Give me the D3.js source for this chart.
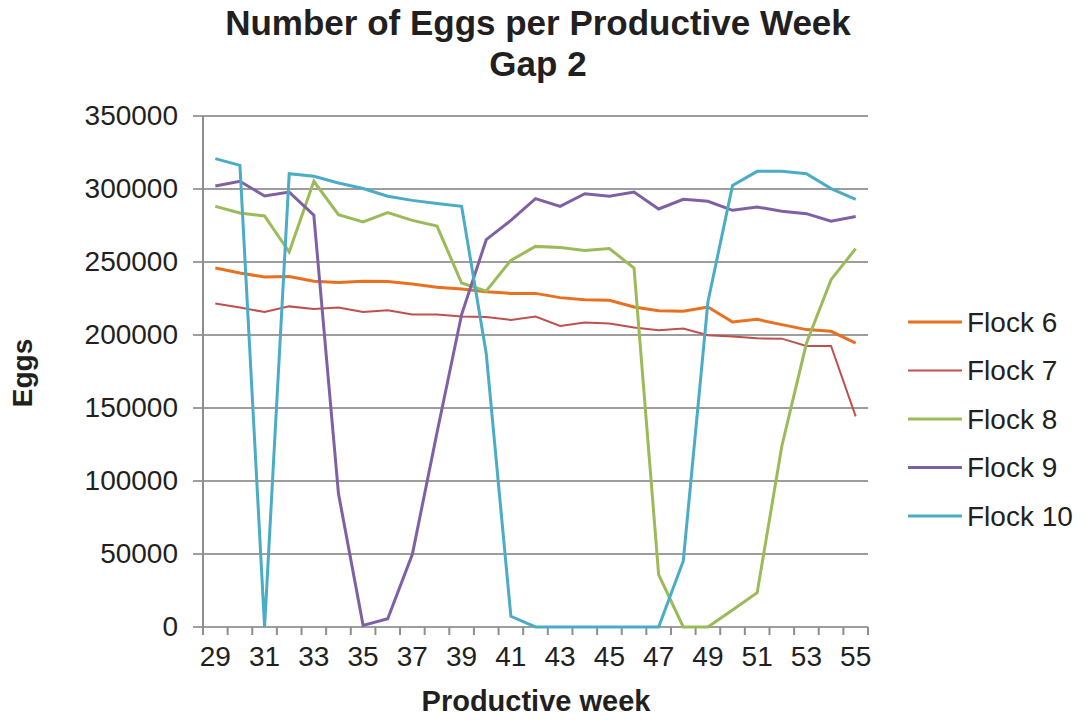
<!DOCTYPE html>
<meta charset="utf-8">
<style>
  body { margin: 0; background: #fff; }
  text { font-family: "Liberation Sans", Arial, sans-serif; fill: #231f20; }
</style>
<script src="https://d3js.org/d3.v7.min.js"></script>
<div id="my_dataviz"></div>
<script>

// productive weeks on the x axis
var weeks = [29,30,31,32,33,34,35,36,37,38,39,40,41,42,43,44,45,46,47,48,49,50,51,52,53,54,55];
var weekLabels = [29,31,33,35,37,39,41,43,45,47,49,51,53,55];
var yTicks = [0,50000,100000,150000,200000,250000,300000,350000];

// eggs per week
var flock6 = [245900,242500,239700,240000,236800,235900,236800,236600,234900,232700,231500,229700,228500,228500,225600,224200,223800,219200,216600,216200,219200,208900,210700,207100,203700,202500,194500];
var flock7 = [221500,218800,215700,219600,217800,218800,215700,216900,214000,214000,212600,212300,210300,212600,206200,208500,207800,205100,203200,204400,199800,198900,197700,197500,192500,192500,144300];
var flock8 = [288100,283600,281500,256800,305300,282400,277400,283800,278500,274600,235600,230100,251100,260700,260000,257800,259200,245900,35900,0,0,11700,23500,123800,194300,237900,259200];
var flock9 = [302000,305300,295200,297900,282000,91400,1100,5700,49800,133000,214000,265300,278500,293400,288100,296800,295000,297900,286300,292900,291600,285400,287700,284700,283100,277900,281100];
var flock10 = [320800,316200,0,310500,308700,304100,300300,295000,292200,290000,288100,187300,7300,0,0,0,0,0,0,45200,222600,302500,312100,312100,310500,300300,292900];

var seriesNames = ["Flock 6","Flock 7","Flock 8","Flock 9","Flock 10"];
var seriesValues = [flock6, flock7, flock8, flock9, flock10];
var colors = ["#e8701f","#c0504d","#9bbb59","#7f60a2","#4bacc6"];
var widths = [3, 2, 3, 3, 3];

var W = 1084, H = 720;
var margin = {top: 116, left: 203, right: 216, bottom: 93};

var svg = d3.select("#my_dataviz")
  .append("svg")
    .attr("width", W)
    .attr("height", H);

var x = d3.scaleBand()
    .domain(weeks)
    .range([margin.left, W - margin.right])
    .padding(0);

var y = d3.scaleLinear()
    .domain([0, 350000])
    .range([H - margin.bottom, margin.top]);

var cx = function(w) { return x(w) + x.bandwidth() / 2; };

// gridlines (with the little outside tick on the left)
svg.append("g")
  .selectAll("line")
  .data(yTicks)
  .enter()
  .append("line")
    .attr("x1", margin.left - 10)
    .attr("x2", W - margin.right)
    .attr("y1", function(d) { return y(d); })
    .attr("y2", function(d) { return y(d); })
    .style("stroke", "#9d9d9d")
    .style("stroke-width", 2);

// y axis line
svg.append("line")
    .attr("x1", margin.left).attr("x2", margin.left)
    .attr("y1", y(350000)).attr("y2", y(0) + 8)
    .style("stroke", "#8e8e8e")
    .style("stroke-width", 2);

// x tick marks at band edges
var edges = weeks.map(function(w) { return x(w); }).concat([W - margin.right]);
svg.append("g")
  .selectAll("line")
  .data(edges)
  .enter()
  .append("line")
    .attr("x1", function(d) { return d; })
    .attr("x2", function(d) { return d; })
    .attr("y1", y(0))
    .attr("y2", y(0) + 8)
    .style("stroke", "#8e8e8e")
    .style("stroke-width", 2);

// y tick labels
var yAxis = svg.append("g")
    .attr("transform", "translate(" + (margin.left - 12) + ",0)")
    .call(d3.axisLeft(y).tickValues(yTicks).tickSize(0).tickPadding(13).tickFormat(d3.format("d")));
yAxis.select(".domain").remove();
yAxis.selectAll("text")
    .style("font-size", "28px")
    .style("font-family", "Liberation Sans, Arial, sans-serif")
    .style("fill", "#231f20");

// x tick labels, every other week
var xAxis = svg.append("g")
    .attr("transform", "translate(0," + y(0) + ")")
    .call(d3.axisBottom(x).tickValues(weekLabels).tickSize(0).tickPadding(19));
xAxis.select(".domain").remove();
xAxis.selectAll("text")
    .style("font-size", "28px")
    .style("font-family", "Liberation Sans, Arial, sans-serif")
    .style("fill", "#231f20");

// lines
var line = d3.line()
    .x(function(d, i) { return cx(weeks[i]); })
    .y(function(d) { return y(d); });

seriesValues.forEach(function(vals, k) {
  svg.append("path")
      .datum(vals)
      .attr("d", line)
      .style("fill", "none")
      .style("stroke", colors[k])
      .style("stroke-width", widths[k])
      .style("stroke-linejoin", "miter");
});

// legend
var legend = svg.append("g")
  .selectAll("g")
  .data(seriesNames)
  .enter()
  .append("g")
    .attr("transform", function(d, i) { return "translate(908," + (322 + i * 48.5) + ")"; });
legend.append("line")
    .attr("x1", 0).attr("x2", 54)
    .style("stroke", function(d, i) { return colors[i]; })
    .style("stroke-width", function(d, i) { return widths[i]; });
legend.append("text")
    .attr("x", 59)
    .attr("dy", "0.35em")
    .style("font-size", "28px")
    .text(function(d) { return d; });

// titles
svg.append("text")
    .attr("x", 538).attr("y", 35)
    .attr("text-anchor", "middle")
    .style("font-size", "35px")
    .style("font-weight", "bold")
    .text("Number of Eggs per Productive Week");
svg.append("text")
    .attr("x", 538).attr("y", 76)
    .attr("text-anchor", "middle")
    .style("font-size", "35px")
    .style("font-weight", "bold")
    .text("Gap 2");

svg.append("text")
    .attr("x", 536).attr("y", 711)
    .attr("text-anchor", "middle")
    .style("font-size", "29px")
    .style("font-weight", "bold")
    .text("Productive week");

svg.append("text")
    .attr("transform", "translate(32,373) rotate(-90)")
    .attr("text-anchor", "middle")
    .style("font-size", "28px")
    .style("font-weight", "bold")
    .text("Eggs");

</script>
